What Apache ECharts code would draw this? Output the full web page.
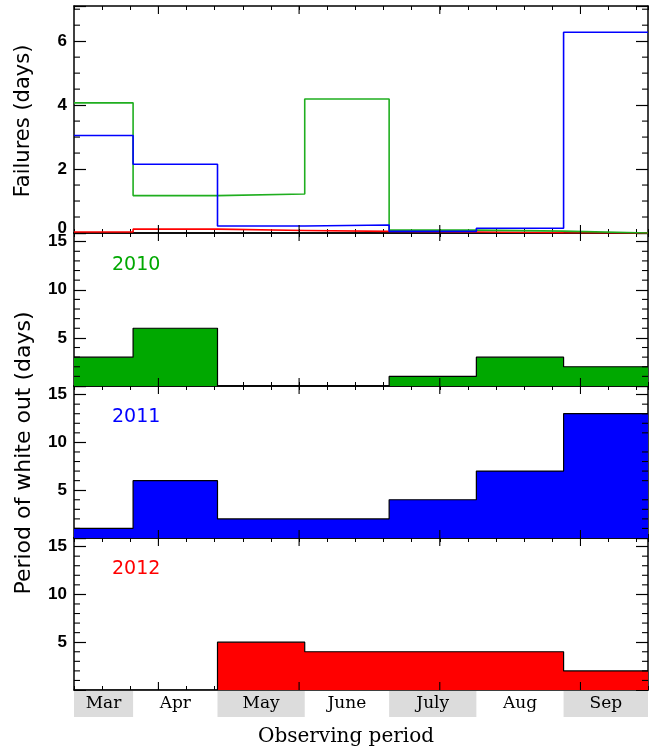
<!DOCTYPE html>
<html><head><meta charset="utf-8">
<script src="https://cdn.jsdelivr.net/npm/echarts@6/dist/echarts.min.js"></script>
<style>html,body{margin:0;padding:0;background:#fff}#c{width:656px;height:750px}</style>
</head><body><div id="c"></div>
<script>
// ---- data ----
const months = ['Mar', 'Apr', 'May', 'June', 'July', 'Aug', 'Sep'];
const monthEdges = [70, 91, 121, 152, 182, 213, 244, 274]; // day of year
const shadedMonths = [true, false, true, false, true, false, true];
const failures2010 = [4.07, 1.17, 1.22, 4.19, 0.09, 0.06, 0.0];
const failures2011 = [3.05, 2.15, 0.22, 0.25, 0.05, 0.15, 6.28];
const failures2012 = [0.03, 0.12, 0.08, 0.05, 0.03, 0.01, 0.0];
const whiteout2010 = [3, 6, 0, 0, 1, 3, 2];
const whiteout2011 = [1, 6, 2, 2, 4, 7, 13];
const whiteout2012 = [0, 0, 5, 4, 4, 4, 2];
const years = ['2010', '2011', '2012'];
const failureTickLabels = [0, 2, 4, 6];
const whiteoutTickLabels = [5, 10, 15];
const majorDayTicks = [100, 150, 200, 250];

// ---- styling ----
const lineColors = ['#1fae1f', '#0000ff', '#ff0000'];
const fillColors = ['#00a800', '#0000ff', '#ff0000'];
const grids = [
  {left: 74, width: 574, top: 6, height: 227},
  {left: 74, width: 574, top: 233, height: 153},
  {left: 74, width: 574, top: 386, height: 152},
  {left: 74, width: 574, top: 538, height: 152}
];

function stepData(vals) {
  const d = vals.map((v, i) => [monthEdges[i], v]);
  d.push([monthEdges[monthEdges.length - 1], vals[vals.length - 1]]);
  return d;
}

const xAxes = [], yAxes = [];
const minorY = [];
grids.forEach((g, gi) => {
  ['bottom', 'top'].forEach(pos => {
    xAxes.push({
      type: 'value', gridIndex: gi, position: pos, min: 70, max: 274, interval: 10,
      axisLine: {show: true, onZero: false, lineStyle: {color: '#000', width: 1.5}},
      axisTick: {show: true, inside: true, length: 4, lineStyle: {color: '#000', width: 1}},
      axisLabel: {show: false}, splitLine: {show: false}
    });
  });
  const top = gi === 0;
  const maxV = top ? 7.1 : 15.9;
  const majI = top ? 2 : 5;
  const minI = top ? 0.5 : 1;
  const labels = top ? failureTickLabels : whiteoutTickLabels;
  const mins = [];
  for (let k = 1; k * minI <= maxV; k++) {
    const v = +(k * minI).toFixed(2);
    if (Math.abs(v / majI - Math.round(v / majI)) > 1e-6) mins.push(v);
  }
  minorY.push(mins);
  ['left', 'right'].forEach(pos => {
    yAxes.push({
      type: 'value', gridIndex: gi, position: pos, min: 0, max: maxV, interval: majI,
      axisLine: {show: true, onZero: false, lineStyle: {color: '#000', width: 1.5}},
      axisTick: {show: true, inside: true, length: 12, lineStyle: {color: '#000', width: 1.2}},
      axisLabel: {
        show: pos === 'left', margin: 7, color: '#000',
        fontFamily: 'Liberation Sans', fontWeight: 'bold', fontSize: 17,
        formatter: v => labels.indexOf(v) >= 0 ? (v === 0 ? '{z|0}' : String(v)) : '',
        rich: {z: {padding: [0, 0, 10, 0], fontFamily: 'Liberation Sans', fontWeight: 'bold', fontSize: 17, color: '#000'}}
      },
      splitLine: {show: false}
    });
  });
});

const series = [];
// top panel: failures
[[failures2012, 2], [failures2010, 0], [failures2011, 1]].forEach(([vals, ci]) => {
  series.push({
    type: 'line', xAxisIndex: 0, yAxisIndex: 0, step: 'end', symbol: 'none',
    data: stepData(vals), lineStyle: {color: lineColors[ci], width: 1.6}, z: 3
  });
});
// lower panels: white out
[whiteout2010, whiteout2011, whiteout2012].forEach((vals, k) => {
  const gi = k + 1;
  series.push({
    type: 'line', xAxisIndex: 2 * gi, yAxisIndex: 2 * gi, step: 'end', symbol: 'none',
    data: stepData(vals),
    lineStyle: {color: '#000', width: 1.2},
    areaStyle: {color: fillColors[k], opacity: 1}, z: 3
  });
});
// major x ticks (top & bottom) and minor y ticks (left & right) of each panel
grids.forEach((g, gi) => {
  const tickData = majorDayTicks.map(d => [d, 0]).concat(minorY[gi].map(v => [v, 1]));
  series.push({
    type: 'custom', xAxisIndex: 2 * gi, yAxisIndex: 2 * gi, z: 4, silent: true,
    data: tickData,
    encode: {x: 0, y: 1},
    renderItem: (params, api) => {
      const cs = params.coordSys;
      const kind = api.value(1);
      const val = api.value(0);
      const st = {stroke: '#000', lineWidth: 1.1};
      if (kind === 0) {
        const x = api.coord([val, 0])[0];
        return {type: 'group', children: [
          {type: 'line', shape: {x1: x, y1: cs.y, x2: x, y2: cs.y + 8}, style: st},
          {type: 'line', shape: {x1: x, y1: cs.y + cs.height, x2: x, y2: cs.y + cs.height - 8}, style: st}
        ]};
      }
      const y = api.coord([70, val])[1];
      return {type: 'group', children: [
        {type: 'line', shape: {x1: cs.x, y1: y, x2: cs.x + 6, y2: y}, style: st},
        {type: 'line', shape: {x1: cs.x + cs.width, y1: y, x2: cs.x + cs.width - 6, y2: y}, style: st}
      ]};
    }
  });
});
// month labels under the bottom panel
series.push({
  type: 'custom', xAxisIndex: 6, yAxisIndex: 6, clip: false, silent: true, z: 1,
  data: months.map((m, i) => [monthEdges[i], monthEdges[i + 1], i]),
  encode: {x: [0, 1]},
  renderItem: (params, api) => {
    const i = api.value(2);
    const x0 = api.coord([api.value(0), 0])[0];
    const x1 = api.coord([api.value(1), 0])[0];
    const yb = params.coordSys.y + params.coordSys.height;
    const children = [];
    if (shadedMonths[i]) {
      children.push({type: 'rect', shape: {x: x0, y: yb + 1, width: x1 - x0, height: 26}, style: {fill: '#dcdcdc'}});
    }
    children.push({type: 'text', style: {
      text: months[i], x: (x0 + x1) / 2, y: yb + 14, align: 'center', verticalAlign: 'middle',
      textAlign: 'center', textVerticalAlign: 'middle',
      font: '17px "DejaVu Serif"', fill: '#000'
    }});
    return {type: 'group', children};
  }
});

const yearLabelY = [265, 417, 569];
const graphic = [
  {type: 'text', x: 24, y: 121, rotation: Math.PI / 2, style: {text: 'Failures (days)', align: 'center', verticalAlign: 'middle', font: '21px "DejaVu Sans"', fill: '#000'}},
  {type: 'text', x: 24, y: 453, rotation: Math.PI / 2, style: {text: 'Period of white out (days)', align: 'center', verticalAlign: 'middle', font: '22px "DejaVu Sans"', fill: '#000'}},
  {type: 'text', x: 346, y: 737, style: {text: 'Observing period', align: 'center', verticalAlign: 'middle', font: '20px "DejaVu Serif"', fill: '#000'}}
];
years.forEach((y, k) => {
  graphic.push({type: 'text', x: 112, y: yearLabelY[k], style: {text: y, align: 'left', verticalAlign: 'middle', font: '19px "DejaVu Sans"', fill: fillColors[k]}});
});

const chart = echarts.init(document.getElementById('c'), null, {renderer: 'canvas'});
chart.setOption({
  animation: false,
  backgroundColor: '#fff',
  grid: grids,
  xAxis: xAxes,
  yAxis: yAxes,
  series: series,
  graphic: graphic
});
</script></body></html>
